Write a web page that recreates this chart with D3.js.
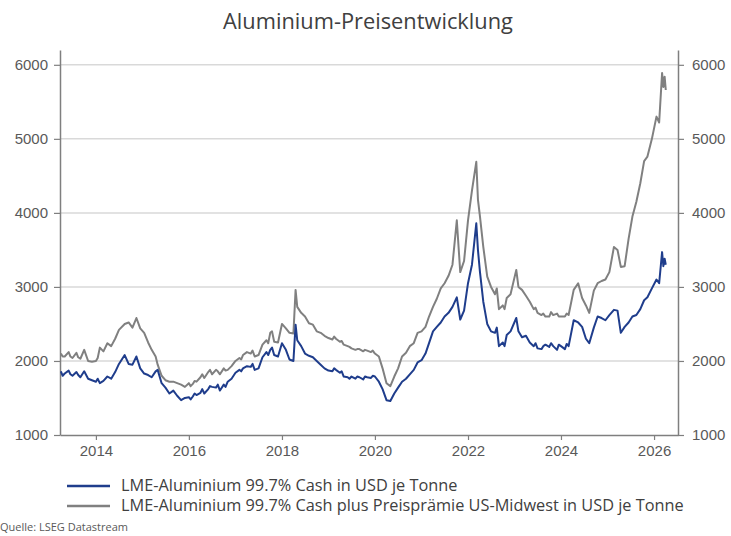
<!DOCTYPE html>
<html>
<head>
<meta charset="utf-8">
<script src="https://cdn.jsdelivr.net/npm/d3@7"></script>
<style>
    body { margin: 0; background: #fff; }
    svg { display: block; font-family: "Open Sans", Lato, sans-serif; }
</style>
</head>
<body>
<script>
const title = "Aluminium-Preisentwicklung";
const seriesNames = [
    "LME-Aluminium 99.7% Cash in USD je Tonne",
    "LME-Aluminium 99.7% Cash plus Preisprämie US-Midwest in USD je Tonne"
];
const source = "Quelle: LSEG Datastream";
const yTicks = [1000, 2000, 3000, 4000, 5000, 6000];
const xTickYears = [2014, 2016, 2018, 2020, 2022, 2024, 2026];

const dates = [
    "2013-04-01", "2013-04-15", "2013-05-01", "2013-06-01", "2013-06-15", "2013-07-01", "2013-08-01", "2013-08-15", "2013-09-01", "2013-10-01", "2013-11-01", "2013-12-01",
    "2014-01-01", "2014-01-15", "2014-02-01", "2014-03-01", "2014-04-01", "2014-05-01", "2014-06-01", "2014-07-01", "2014-08-15", "2014-09-15", "2014-10-15", "2014-11-15", "2014-12-15",
    "2015-01-15", "2015-02-15", "2015-03-15", "2015-04-15", "2015-05-01", "2015-06-01", "2015-07-01", "2015-08-01", "2015-09-01", "2015-10-01", "2015-11-01", "2015-12-01",
    "2016-01-01", "2016-01-15", "2016-02-01", "2016-02-15", "2016-03-01", "2016-04-01", "2016-04-15", "2016-05-01", "2016-06-01", "2016-06-15", "2016-07-01", "2016-08-01", "2016-08-15", "2016-09-01", "2016-10-01", "2016-10-15", "2016-11-01", "2016-12-01",
    "2017-01-01", "2017-02-01", "2017-02-15", "2017-03-01", "2017-04-01", "2017-05-01", "2017-05-15", "2017-06-01", "2017-07-01", "2017-08-01", "2017-09-01", "2017-09-15", "2017-10-01", "2017-10-15", "2017-11-01", "2017-12-01",
    "2018-01-01", "2018-02-01", "2018-03-01", "2018-04-01", "2018-04-18", "2018-05-01", "2018-06-01", "2018-07-01", "2018-08-01", "2018-09-01", "2018-10-01", "2018-11-01", "2018-12-01",
    "2019-01-01", "2019-02-01", "2019-02-15", "2019-03-01", "2019-04-01", "2019-04-15", "2019-05-01", "2019-06-01", "2019-06-15", "2019-07-01", "2019-08-01", "2019-08-15", "2019-09-01", "2019-10-01", "2019-10-15", "2019-11-01", "2019-12-01", "2019-12-15",
    "2020-01-01", "2020-02-01", "2020-03-01", "2020-04-01", "2020-05-01", "2020-06-01", "2020-07-01", "2020-08-01", "2020-09-01", "2020-10-01", "2020-11-01", "2020-12-01",
    "2021-01-01", "2021-02-01", "2021-03-01", "2021-04-01", "2021-05-01", "2021-06-01", "2021-07-01", "2021-08-01", "2021-09-01", "2021-10-05", "2021-11-01", "2021-12-01",
    "2022-01-01", "2022-02-01", "2022-03-07", "2022-03-20", "2022-04-05", "2022-05-01", "2022-06-01", "2022-07-01", "2022-08-01", "2022-08-15", "2022-09-01", "2022-10-01", "2022-10-15", "2022-11-01", "2022-12-01",
    "2023-01-15", "2023-02-01", "2023-03-01", "2023-04-01", "2023-05-01", "2023-06-01", "2023-06-15", "2023-07-01", "2023-08-01", "2023-08-15", "2023-09-01", "2023-10-01", "2023-10-15", "2023-11-01", "2023-12-01", "2023-12-15",
    "2024-01-01", "2024-02-01", "2024-02-15", "2024-03-01", "2024-04-10", "2024-05-15", "2024-06-15", "2024-07-15", "2024-08-10", "2024-09-15", "2024-10-15", "2024-11-15", "2024-12-15",
    "2025-01-15", "2025-02-20", "2025-03-20", "2025-04-15", "2025-05-15", "2025-06-15", "2025-07-15", "2025-08-15", "2025-09-15", "2025-10-15", "2025-11-10", "2025-12-15",
    "2026-01-20", "2026-02-10", "2026-03-05", "2026-03-15", "2026-03-25", "2026-04-03"
];

const lmeCash = [
    1860, 1800, 1830, 1870, 1820, 1800, 1850, 1810, 1780, 1860, 1760, 1740,
    1720, 1760, 1700, 1730, 1790, 1760, 1850, 1960, 2080, 1960, 1950, 2060, 1900,
    1830, 1810, 1780, 1860, 1880, 1700, 1640, 1560, 1600, 1530, 1470, 1500,
    1510, 1480, 1520, 1560, 1540, 1570, 1620, 1560, 1620, 1660, 1650, 1640, 1680, 1600, 1680, 1650, 1720, 1760,
    1840, 1880, 1860, 1900, 1930, 1920, 1960, 1880, 1900, 2050, 2120, 2080, 2150, 2180, 2080, 2060,
    2240, 2150, 2020, 2000, 2490, 2280, 2200, 2100, 2070, 2050, 2000, 1950, 1900,
    1870, 1860, 1900, 1880, 1840, 1860, 1790, 1780, 1760, 1790, 1760, 1790, 1780, 1750, 1790, 1780, 1770, 1800,
    1790, 1720, 1620, 1470, 1460, 1560, 1640, 1720, 1760, 1820, 1880, 1980,
    2010, 2100, 2240, 2400, 2460, 2520, 2600, 2650, 2730, 2860, 2560, 2680,
    3050, 3300, 3860, 3500, 3200, 2800, 2500, 2400, 2380, 2450, 2200, 2250, 2200, 2350, 2400,
    2580, 2400, 2320, 2340, 2250, 2200, 2240, 2170, 2160, 2200, 2220, 2190, 2240, 2200, 2150, 2220,
    2200, 2160, 2230, 2200, 2550, 2520, 2460, 2300, 2240, 2450, 2600, 2580, 2550,
    2620, 2690, 2680, 2380, 2460, 2520, 2600, 2620, 2700, 2820, 2860, 2980,
    3100, 3050, 3470, 3280, 3380, 3300
];

const lmePlusPremium = [
    2100, 2060, 2060, 2120, 2060, 2040, 2110, 2050, 2030, 2150, 2000, 1990,
    2000, 2040, 2180, 2130, 2240, 2200, 2300, 2420, 2500, 2520, 2450, 2580, 2440,
    2380, 2250, 2150, 2060, 1950, 1800, 1740, 1720, 1720, 1700, 1680, 1650,
    1700, 1660, 1690, 1730, 1720, 1780, 1820, 1770, 1850, 1880, 1820, 1880, 1860, 1820, 1900, 1870, 1880, 1930,
    2000, 2040, 2020, 2080, 2120, 2100, 2140, 2060, 2080, 2220, 2280, 2240, 2380, 2400, 2260, 2250,
    2500, 2440, 2380, 2370, 2960, 2730, 2650, 2600, 2510, 2490, 2400, 2380, 2340,
    2310, 2290, 2330, 2300, 2260, 2270, 2220, 2200, 2190, 2170, 2150, 2160, 2160, 2130, 2150, 2140, 2120, 2140,
    2100, 2060, 1900, 1700, 1660, 1790, 1900, 2060, 2110, 2200, 2240, 2380,
    2400, 2460, 2600, 2730, 2840, 2980, 3050, 3150, 3300, 3900, 3200, 3350,
    3900, 4300, 4690, 4180, 3950, 3540, 3140, 3000, 2900, 2980, 2700, 2750, 2700, 2850, 2900,
    3230, 3000, 2960, 2880, 2800, 2700, 2720, 2650, 2620, 2640, 2600, 2600, 2660, 2620, 2640, 2600,
    2600, 2600, 2640, 2620, 2960, 3050, 2850, 2750, 2650, 2950, 3050, 3080, 3100,
    3200, 3540, 3500, 3270, 3280, 3650, 3950, 4150, 4400, 4700, 4760, 5000,
    5300, 5220, 5890, 5700, 5840, 5660
];

const colors = ["#1f3d8c", "#808080"];

const width = 731;
const height = 536;
const plot = {left: 60, right: 678, top: 50, bottom: 435};

const parse = d3.timeParse("%Y-%m-%d");
const data = dates.map(function (d, i) {
    return {date: parse(d), lme: lmeCash[i], plus: lmePlusPremium[i]};
});

const svg = d3.select("body")
    .append("svg")
    .attr("width", width)
    .attr("height", height);

const xScale = d3.scaleTime()
    .domain([new Date(2013, 2, 25), new Date(2026, 6, 8)])
    .range([plot.left, plot.right]);

const yScale = d3.scaleLinear()
    .domain([1000, 6200])
    .range([plot.bottom, plot.top]);

// shrink or grow a text until it spans the given width
function fitWidth(text, target) {
    const size = parseFloat(text.style("font-size"));
    const w = text.node().getComputedTextLength();
    if (w > 0) text.style("font-size", (size * target / w).toFixed(2) + "px");
}

// gridlines
svg.append("g")
    .selectAll("line")
    .data(yTicks.filter(v => v > 1000))
    .enter().append("line")
    .attr("x1", plot.left)
    .attr("x2", plot.right)
    .attr("y1", d => yScale(d))
    .attr("y2", d => yScale(d))
    .attr("stroke", "#d9d9d9")
    .attr("stroke-width", 1.5);

function styleAxis(g) {
    g.select(".domain").attr("stroke", "#7f7f7f").attr("stroke-width", 1.5);
    g.selectAll(".tick line").attr("stroke", "#7f7f7f").attr("stroke-width", 1.2);
    g.selectAll(".tick text").attr("fill", "#595959").style("font-size", "15px");
}

svg.append("g")
    .attr("transform", "translate(" + plot.left + ",0)")
    .call(d3.axisLeft(yScale).tickValues(yTicks).tickSize(6).tickSizeOuter(0).tickPadding(6).tickFormat(d3.format("d")))
    .call(styleAxis);

svg.append("g")
    .attr("transform", "translate(" + plot.right + ",0)")
    .call(d3.axisRight(yScale).tickValues(yTicks).tickSize(6).tickSizeOuter(0).tickPadding(8).tickFormat(d3.format("d")))
    .call(styleAxis);

svg.append("g")
    .attr("transform", "translate(0," + plot.bottom + ")")
    .call(d3.axisBottom(xScale)
        .tickValues(xTickYears.map(y => new Date(y, 0, 1)))
        .tickSize(5).tickSizeOuter(0).tickPadding(5)
        .tickFormat(d3.timeFormat("%Y")))
    .call(styleAxis);

const lineLme = d3.line()
    .x(d => xScale(d.date))
    .y(d => yScale(d.lme));
const linePlus = d3.line()
    .x(d => xScale(d.date))
    .y(d => yScale(d.plus));

svg.append("path")
    .datum(data)
    .attr("fill", "none")
    .attr("stroke", colors[1])
    .attr("stroke-width", 2)
    .attr("stroke-linejoin", "round")
    .attr("d", linePlus);

svg.append("path")
    .datum(data)
    .attr("fill", "none")
    .attr("stroke", colors[0])
    .attr("stroke-width", 2)
    .attr("stroke-linejoin", "round")
    .attr("d", lineLme);

// title
svg.append("text")
    .attr("x", 368)
    .attr("y", 29)
    .attr("text-anchor", "middle")
    .attr("fill", "#404040")
    .style("font-size", "20px")
    .text(title)
    .call(fitWidth, 290);

// legend
const legend = svg.append("g")
    .selectAll("g")
    .data(seriesNames)
    .enter().append("g")
    .attr("transform", (d, i) => "translate(0," + (486 + i * 20) + ")");
legend.append("line")
    .attr("x1", 67).attr("x2", 110)
    .attr("stroke", (d, i) => colors[i])
    .attr("stroke-width", 2.5);
const legendText = legend.append("text")
    .attr("x", 121)
    .attr("y", 5)
    .attr("fill", "#404040")
    .style("font-size", "15px")
    .text(d => d);
// both rows share the size fitted to the longer one
const longRow = legendText.filter((d, i) => i === 1);
longRow.call(fitWidth, 563);
legendText.style("font-size", longRow.style("font-size"));

svg.append("text")
    .attr("x", 0)
    .attr("y", 531)
    .attr("fill", "#595959")
    .style("font-size", "11px")
    .text(source);
</script>
</body>
</html>
